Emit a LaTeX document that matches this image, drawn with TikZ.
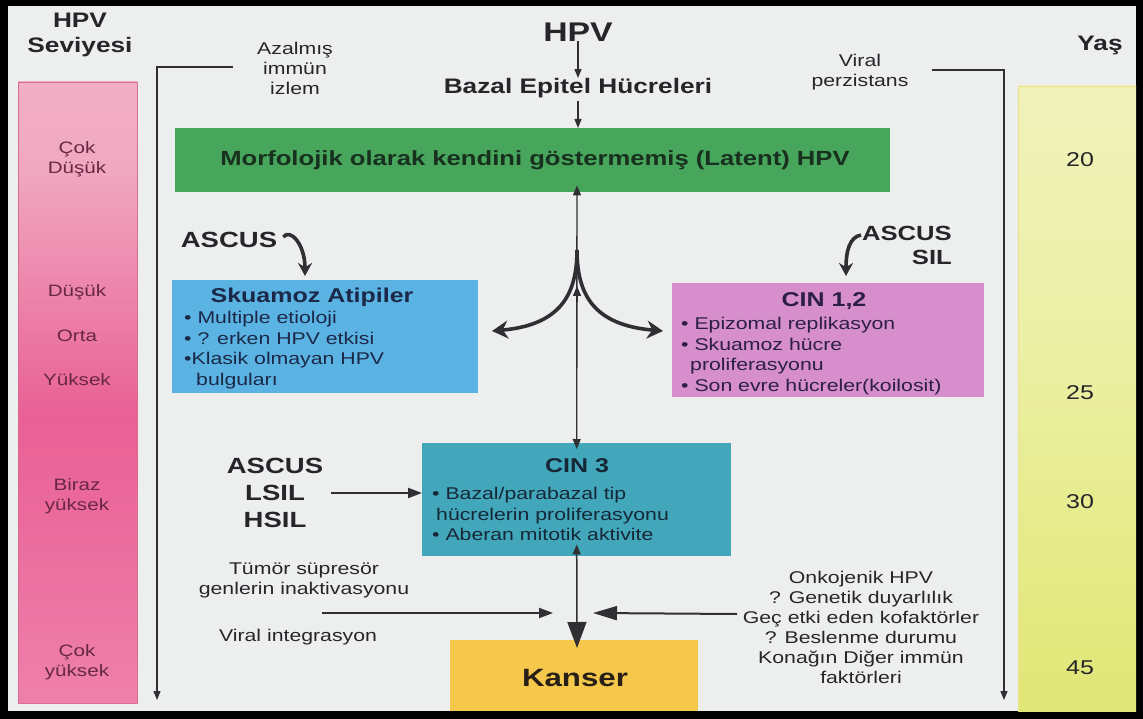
\documentclass[tikz,border=0pt]{standalone}
\usepackage{fontspec}
\setmainfont{Liberation Sans}[FakeStretch=1.25]
\usetikzlibrary{arrows.meta,shadings}

\newcommand\setfs[2]{\fontsize{#1}{#2}\selectfont}

\definecolor{paper}{RGB}{237,239,239}
\definecolor{ink}{RGB}{38,38,42}
\definecolor{wire}{RGB}{48,48,52}
\definecolor{levelink}{RGB}{104,40,68}
\definecolor{latentgreen}{RGB}{72,166,92}
\definecolor{latentink}{RGB}{24,48,30}
\definecolor{atypblue}{RGB}{90,179,226}
\definecolor{atypink}{RGB}{28,40,72}
\definecolor{cinpink}{RGB}{214,143,204}
\definecolor{cinpinkink}{RGB}{44,30,70}
\definecolor{cinteal}{RGB}{66,167,186}
\definecolor{cintealink}{RGB}{22,40,56}
\definecolor{cancer}{RGB}{245,199,74}
\definecolor{cancerink}{RGB}{40,32,22}

% level bar (pink) and age bar (yellow) shadings, bottom = 0bp
\definecolor{pkA}{RGB}{242,160,188}
\definecolor{pkB}{RGB}{238,128,170}
\definecolor{pkC}{RGB}{233,96,148}
\definecolor{pkD}{RGB}{240,168,192}
\definecolor{pkE}{RGB}{245,196,210}
\pgfdeclareverticalshading{levelbar}{100bp}{color(0bp)=(pkA); color(25bp)=(pkB); color(48bp)=(pkC); color(68bp)=(pkD); color(100bp)=(pkE)}
\definecolor{ywA}{RGB}{222,222,104}
\definecolor{ywB}{RGB}{226,232,124}
\definecolor{ywC}{RGB}{236,240,166}
\definecolor{ywD}{RGB}{247,243,212}
\pgfdeclareverticalshading{agebar}{100bp}{color(0bp)=(ywA); color(30bp)=(ywB); color(55bp)=(ywC); color(100bp)=(ywD)}

\begin{document}
\begin{tikzpicture}[x=1pt,y=-1pt,
  txt/.style={inner sep=0pt, text=ink, align=center, font=\setfs{17}{20}},
  boldtxt/.style={inner sep=0pt, text=ink, align=center, font=\bfseries\setfs{21}{25}},
  leveltxt/.style={txt, text=levelink, font=\setfs{16.5}{20}},
  agetxt/.style={txt, font=\setfs{20}{24}},
  listtxt/.style={inner sep=0pt, align=left, anchor=north west, font=\setfs{17}{20.5}},
  panel/.style={rectangle, inner sep=0pt, anchor=north west, draw=none},
  wirearrow/.style={draw=wire, line width=1.3pt, -{Triangle[length=9pt,width=7pt]}},
  longarrow/.style={draw=wire, line width=2pt, -{Triangle[length=14pt,width=10pt]}},
  bigarrow/.style={draw=wire, line width=3.6pt, -{Stealth[length=16pt,width=18pt]}},
]
\useasboundingbox (0,0) rectangle (1143,719);

% frame and page
\fill[black] (0,0) rectangle (1143,719);
\fill[paper] (8,6) rectangle (1136,711);

% side bars
\shade[shading=levelbar] (18,82) rectangle (137,703);
\draw[draw={rgb,255:red,214;green,110;blue,146}, line width=0.8pt] (18,82) rectangle (137,703);
\shade[shading=agebar] (1018,86) rectangle (1136,711);
\draw[draw={rgb,255:red,236;green,226;blue,140}, line width=0.8pt] (1018,711) -- (1018,86) -- (1136,86);

% side bar headings and scale labels
\node[boldtxt] (levelhead) at (80,35) {HPV\\Seviyesi};
\node[boldtxt] (agehead) at (1100,45) {Yaş};

\node[leveltxt] (lv1) at (77,159) {Çok\\Düşük};
\node[leveltxt] (lv2) at (77,292) {Düşük};
\node[leveltxt] (lv3) at (77,336) {Orta};
\node[leveltxt] (lv4) at (77,380) {Yüksek};
\node[leveltxt] (lv5) at (77,496) {Biraz\\yüksek};
\node[leveltxt] (lv6) at (77,662) {Çok\\yüksek};

\node[agetxt] (age20) at (1080,160) {20};
\node[agetxt] (age25) at (1080,393) {25};
\node[agetxt] (age30) at (1080,502) {30};
\node[agetxt] (age45) at (1080,668) {45};

% immune surveillance and persistence brackets
\node[txt] (immune) at (295,68) {Azalmış\\immün\\izlem};
\coordinate (immA) at (233,67);
\coordinate (immB) at (157,700);
\draw[wirearrow] (immA) -| (immB);

\node[txt] (persist) at (860,72) {Viral\\perzistans};
\coordinate (perA) at (932,70);
\coordinate (perB) at (1004,700);
\draw[wirearrow] (perA) -| (perB);

% entry of the virus
\node[boldtxt, font=\bfseries\setfs{27}{30}] (hpv) at (578,32) {HPV};
\node[boldtxt] (basal) at (578,88) {Bazal Epitel Hücreleri};
\draw[wirearrow] (hpv.south) -- (basal.north);
\node[panel, fill=latentgreen, minimum width=715, minimum height=64] (latent) at (175,128) {};
\node[boldtxt, text=latentink, font=\bfseries\setfs{20.5}{24}] (latenttxt) at (535,160)
  {Morfolojik olarak kendini göstermemiş (Latent) HPV};
\draw[wirearrow] ([yshift=-3]basal.south) -- (latent.north -| basal.south);

% squamous atypia
\node[panel, fill=atypblue, minimum width=306, minimum height=113] (atyp) at (172,280) {};
\node[boldtxt, text=atypink, font=\bfseries\setfs{20}{24}] (atyptitle) at (312,297) {Skuamoz Atipiler};
\node[listtxt, text=atypink] (atyplist) at (184,311)
  {• Multiple etioloji\\• ? erken HPV etkisi\\•Klasik olmayan HPV\\\hspace*{12pt}bulguları};
\node[boldtxt, font=\bfseries\setfs{22}{26}] (ascusA) at (229,240) {ASCUS};
\coordinate (ascusAend) at (305,276);
\draw[bigarrow, -{Stealth[length=13pt,width=14pt]}] (ascusA.east) ++(6,-3)
  .. controls (290,228) and (305,244) .. (ascusAend);

% CIN 1,2
\node[panel, fill=cinpink, minimum width=312, minimum height=114] (cinA) at (672,283) {};
\node[boldtxt, text=cinpinkink, font=\bfseries\setfs{20}{24}] (cinAtitle) at (824,301) {CIN 1,2};
\node[listtxt, text=cinpinkink] (cinAlist) at (681,317)
  {• Epizomal replikasyon\\• Skuamoz hücre\\\hspace*{9pt}proliferasyonu\\• Son evre hücreler(koilosit)};
\node[boldtxt, font=\bfseries\setfs{20.5}{24}, align=right, anchor=east] (ascusB) at (952,245) {ASCUS\\SIL};
\coordinate (ascusBstart) at (861,235);
\coordinate (ascusBend) at (846,276);
\draw[bigarrow, -{Stealth[length=13pt,width=14pt]}] (ascusBstart)
  .. controls (850,237) and (846,250) .. (ascusBend);

% CIN 3
\node[panel, fill=cinteal, minimum width=309, minimum height=113] (cinB) at (422,443) {};
\node[boldtxt, text=cintealink, font=\bfseries\setfs{20}{24}] (cinBtitle) at (577,466) {CIN 3};
\node[listtxt, text=cintealink] (cinBlist) at (432,487)
  {• Bazal/parabazal tip\\\hspace*{4pt}hücrelerin proliferasyonu\\• Aberan mitotik aktivite};
\node[boldtxt, font=\bfseries\setfs{22}{27}] (ascusC) at (275,493) {ASCUS\\LSIL\\HSIL};
\draw[longarrow] ([xshift=8]ascusC.east) -- (cinB.west |- ascusC.east);

% central branching between latent infection and lesions
\coordinate (fork) at (577,250);
\coordinate (forkL) at (492,331);
\coordinate (forkR) at (663,331);
\draw[draw=wire, line width=1.4pt, {Triangle[length=10pt,width=8pt]}-{Triangle[length=10pt,width=8pt]}]
  ([yshift=7]latent.south -| fork) -- ([yshift=-6]cinB.north);
\draw[draw=wire, line width=1.4pt, -{Triangle[length=10pt,width=8pt]}] (577,302) -- (577,286);
\draw[bigarrow] (fork) .. controls (577,295) and (560,325) .. (forkL);
\draw[bigarrow] (fork) .. controls (577,295) and (594,325) .. (forkR);

% progression to cancer
\node[panel, fill=cancer, minimum width=248, minimum height=71] (cancerbox) at (450,640) {};
\node[boldtxt, text=cancerink, font=\bfseries\setfs{25}{28}] (cancertxt) at (575,678) {Kanser};

\coordinate (hub) at (577,613);
\draw[draw=wire, line width=1.5pt, {Triangle[length=10pt,width=8pt]}-{Triangle[length=26pt,width=19pt]}]
  ([yshift=12]cinB.south) -- ([yshift=-8]cancerbox.north -| hub);

\node[txt] (tumor) at (304,580) {Tümör süpresör\\genlerin inaktivasyonu};
\node[txt] (integr) at (298,637) {Viral integrasyon};
\coordinate (leftin) at (322,613);
\draw[longarrow] (leftin) -- ([xshift=-24]hub);

\node[txt] (cofactors) at (861,627)
  {Onkojenik HPV\\? Genetik duyarlılık\\Geç etki eden kofaktörler\\? Beslenme durumu\\Konağın Diğer immün\\faktörleri};
\coordinate (rightin) at (737,614);
\draw[draw=wire, line width=2pt, -{Triangle[length=24pt,width=14pt]}] (rightin) -- ([xshift=16]hub);

\end{tikzpicture}
\end{document}
